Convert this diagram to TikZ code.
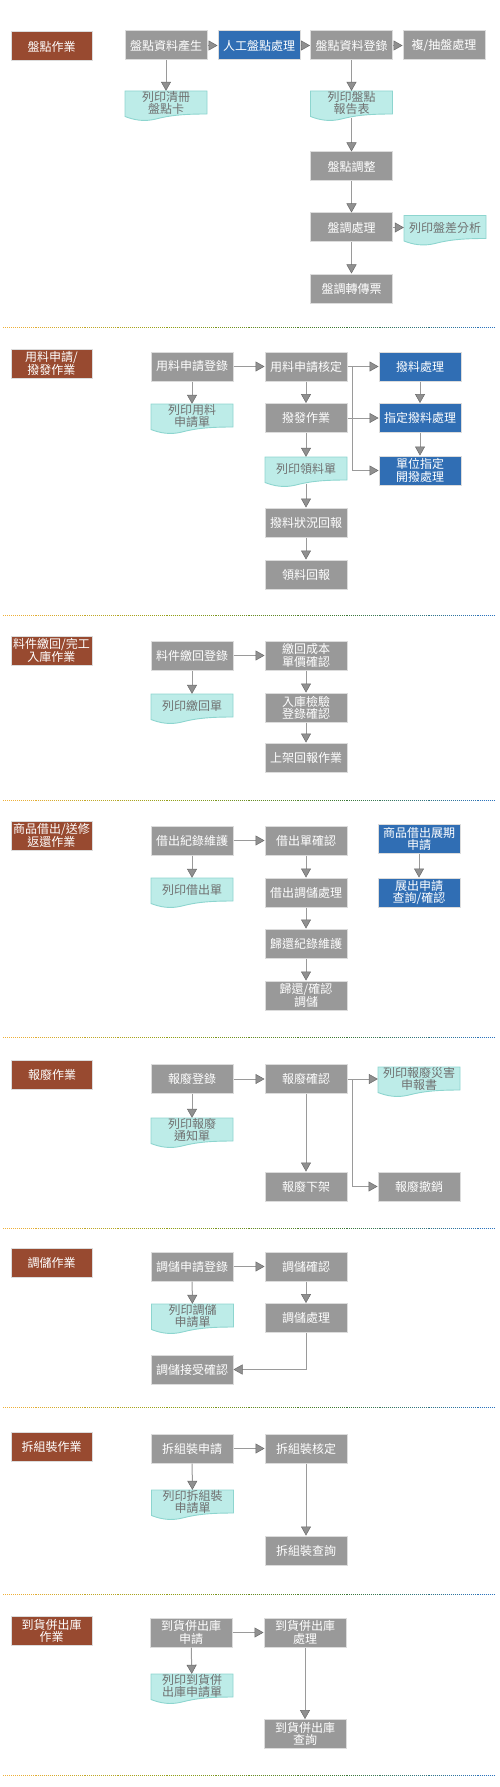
\documentclass[tikz,border=0pt]{standalone}
\usepackage{fontspec}
\newfontfamily\cjk{Noto Sans CJK TC}
\usetikzlibrary{arrows.meta}
\usepackage{xcolor}
\definecolor{catred}{HTML}{984A30}
\definecolor{stepgray}{HTML}{999999}
\definecolor{stepblue}{HTML}{306EB4}
\definecolor{boxedge}{HTML}{DCDCDC}
\definecolor{docfill}{HTML}{BDECE8}
\definecolor{docedge}{HTML}{8DD5CF}
\definecolor{doctext}{HTML}{707070}
\definecolor{linegray}{HTML}{9A9A9A}
\definecolor{arredge}{HTML}{6A6A6A}
\definecolor{arrfill}{HTML}{909090}
\definecolor{sepor}{HTML}{F0B038}
\definecolor{sepol}{HTML}{92A018}
\definecolor{sepgr}{HTML}{3E7A32}
\definecolor{sepbl}{HTML}{2C74CC}

% printed form: box with a wavy lower edge
\newcommand\docnode[3]{%
  \begin{scope}[shift={#2}]
    \filldraw[fill=docfill,draw=docedge,line width=0.9pt]
      (-41,-12) -- (41,-12) -- (41,11)
      .. controls (20,11) and (5,12) .. (-10,16)
      .. controls (-22,19) and (-32,17) .. (-41,13.5) -- cycle;
  \end{scope}
  \node[docbox] (#1) at #2 {#3};}

% dotted separator, orange to blue
\newcommand\sepline[1]{%
  \foreach \ca/\cb [count=\k from 0] in {sepor/sepol,sepol/sepgr,sepgr/sepbl}{
    \foreach \i in {0,...,9}{
      \pgfmathsetmacro\sepx{3+\k*163.7+\i*16.37}
      \pgfmathtruncatemacro\sepp{100-\i*10}
      \draw[\ca!\sepp!\cb,line width=1pt,dash pattern=on 1pt off 1pt] (\sepx,#1) -- ++(16.37,0);
    }}}

\begin{document}
\begin{tikzpicture}[x=1pt,y=-1pt,
  >={Triangle[length=9pt,width=10pt,color=arredge,fill=arrfill,line width=0.5pt]},
  font=\cjk\fontsize{12}{12.2}\selectfont,
  cat/.style={fill=catred,draw=boxedge,line width=1pt,text=white,minimum width=81pt,minimum height=29pt,inner sep=0pt,align=center},
  gbox/.style={fill=stepgray,draw=boxedge,line width=1pt,text=white,minimum width=82pt,minimum height=29pt,inner sep=0pt,align=center},
  bbox/.style={gbox,fill=stepblue},
  docbox/.style={minimum width=82pt,minimum height=24pt,inner sep=0pt,text=doctext,align=center},
  flow/.style={draw=linegray,line width=1pt,->}]
\useasboundingbox (0,0) rectangle (500,1787);

% --- 盤點
\node[cat] (c1) at (51.5,46.5) {盤點作業};
\node[gbox] (a1) at (166,45.5) {盤點資料產生};
\node[bbox] (a2) at (259,45.5) {人工盤點處理};
\node[gbox] (a3) at (351.5,45.5) {盤點資料登錄};
\node[gbox] (a4) at (444,45.5) {複/抽盤處理};
\docnode{p1}{(166,103)}{列印清冊\\盤點卡}
\docnode{p2}{(351.5,103)}{列印盤點\\報告表}
\node[gbox] (a5) at (351.5,166.5) {盤點調整};
\node[gbox] (a6) at (351.5,227.5) {盤調處理};
\docnode{p3}{(445,227.5)}{列印盤差分析}
\node[gbox] (a7) at (351.5,288.5) {盤調轉傳票};
\draw[flow] (a1) -- (a2);
\draw[flow] (a2) -- (a3);
\draw[flow] (a3) -- (a4);
\draw[flow] (a1) -- (p1);
\draw[flow] (a3) -- (p2);
\draw[flow] ([yshift=-2.5pt]p2.south) -- (a5);
\draw[flow] (a5) -- (a6);
\draw[flow] (a6) -- (p3);
\draw[flow] (a6) -- (a7);
\sepline{327}

% --- 用料申請/撥發
\node[cat] (c2) at (51.5,363.5) {用料申請/\\撥發作業};
\node[gbox] (b1) at (192,366.5) {用料申請登錄};
\node[gbox] (b2) at (306,366.5) {用料申請核定};
\node[bbox] (b3) at (420,366.5) {撥料處理};
\docnode{p4}{(192,416)}{列印用料\\申請單}
\node[gbox] (b4) at (306,418) {撥發作業};
\node[bbox] (b5) at (420,418) {指定撥料處理};
\docnode{p5}{(306,469)}{列印領料單}
\node[bbox] (b6) at (420,470.5) {單位指定\\開撥處理};
\node[gbox] (b7) at (306,522.5) {撥料狀況回報};
\node[gbox] (b8) at (306,574.5) {領料回報};
\coordinate (j2) at (352,366.5);
\draw[flow] (b1) -- (b2);
\draw[flow] (b1) -- (p4);
\draw[flow] (b2) -- (b4);
\draw[flow] (b4) -- (p5);
\draw[flow] ([yshift=-2.5pt]p5.south) -- (b7);
\draw[flow] (b7) -- (b8);
\draw[flow] (b2) -- (b3);
\draw[flow] (b4) -- (b5);
\draw[flow] (j2) |- (b6);
\draw[flow] (b3) -- (b5);
\draw[flow] (b5) -- (b6);
\sepline{615}

% --- 料件繳回/完工入庫
\node[cat] (c3) at (51.5,650.5) {料件繳回/完工\\入庫作業};
\node[gbox] (d1) at (192,655.5) {料件繳回登錄};
\node[gbox] (d2) at (306,655.5) {繳回成本\\單價確認};
\docnode{p6}{(192,706)}{列印繳回單}
\node[gbox] (d3) at (306,707.5) {入庫檢驗\\登錄確認};
\node[gbox] (d4) at (306,757.5) {上架回報作業};
\draw[flow] (d1) -- (d2);
\draw[flow] (d1) -- (p6);
\draw[flow] (d2) -- (d3);
\draw[flow] (d3) -- (d4);
\sepline{800}

% --- 商品借出/送修返還
\node[cat] (c4) at (51.5,835.5) {商品借出/送修\\返還作業};
\node[gbox] (e1) at (192,840.5) {借出紀錄維護};
\node[gbox] (e2) at (306,840.5) {借出單確認};
\node[bbox] (e3) at (419,839) {商品借出展期\\申請};
\docnode{p7}{(192,890)}{列印借出單}
\node[gbox] (e4) at (306,892.5) {借出調儲處理};
\node[bbox] (e5) at (419,892.5) {展出申請\\查詢/確認};
\node[gbox] (e6) at (306,943.5) {歸還紀錄維護};
\node[gbox] (e7) at (306,995.5) {歸還/確認\\調儲};
\draw[flow] (e1) -- (e2);
\draw[flow] (e1) -- (p7);
\draw[flow] (e2) -- (e4);
\draw[flow] (e4) -- (e6);
\draw[flow] (e6) -- (e7);
\draw[flow] (e3) -- (e5);
\sepline{1037}

% --- 報廢
\node[cat] (c5) at (52,1074.5) {報廢作業};
\node[gbox] (f1) at (192,1079) {報廢登錄};
\node[gbox] (f2) at (306,1079) {報廢確認};
\docnode{p8}{(419,1079)}{列印報廢災害\\申報書}
\docnode{p9}{(192,1130)}{列印報廢\\通知單}
\node[gbox] (f3) at (306,1186.5) {報廢下架};
\node[gbox] (f4) at (419,1186.5) {報廢撤銷};
\coordinate (j5) at (352,1079);
\draw[flow] (f1) -- (f2);
\draw[flow] (f1) -- (p9);
\draw[flow] (f2) -- (p8);
\draw[flow] (f2) -- (f3);
\draw[flow] (j5) |- (f4);
\sepline{1228}

% --- 調儲
\node[cat] (c6) at (51.5,1262.5) {調儲作業};
\node[gbox] (g1) at (192,1266.5) {調儲申請登錄};
\node[gbox] (g2) at (306,1266.5) {調儲確認};
\docnode{p10}{(192.5,1316)}{列印調儲\\申請單}
\node[gbox] (g3) at (306,1318) {調儲處理};
\node[gbox] (g4) at (192,1369.5) {調儲接受確認};
\draw[flow] (g1) -- (g2);
\draw[flow] (g1) -- (p10);
\draw[flow] (g2) -- (g3);
\draw[flow] (g3) |- (g4);
\sepline{1407}

% --- 拆組裝
\node[cat] (c7) at (51.5,1446.5) {拆組裝作業};
\node[gbox] (h1) at (192,1448.5) {拆組裝申請};
\node[gbox] (h2) at (306,1448.5) {拆組裝核定};
\docnode{p11}{(192.5,1502)}{列印拆組裝\\申請單}
\node[gbox] (h3) at (306,1550.5) {拆組裝查詢};
\draw[flow] (h1) -- (h2);
\draw[flow] (h1) -- (p11);
\draw[flow] (h2) -- (h3);
\sepline{1594}

% --- 到貨併出庫
\node[cat] (c8) at (51.5,1630.5) {到貨併出庫\\作業};
\node[gbox] (k1) at (191,1632.5) {到貨併出庫\\申請};
\node[gbox] (k2) at (305,1632.5) {到貨併出庫\\處理};
\docnode{p12}{(192,1686)}{列印到貨併\\出庫申請單}
\node[gbox] (k3) at (305,1734) {到貨併出庫\\查詢};
\draw[flow] (k1) -- (k2);
\draw[flow] (k1) -- (p12);
\draw[flow] (k2) -- (k3);
\sepline{1775}
\end{tikzpicture}
\end{document}
